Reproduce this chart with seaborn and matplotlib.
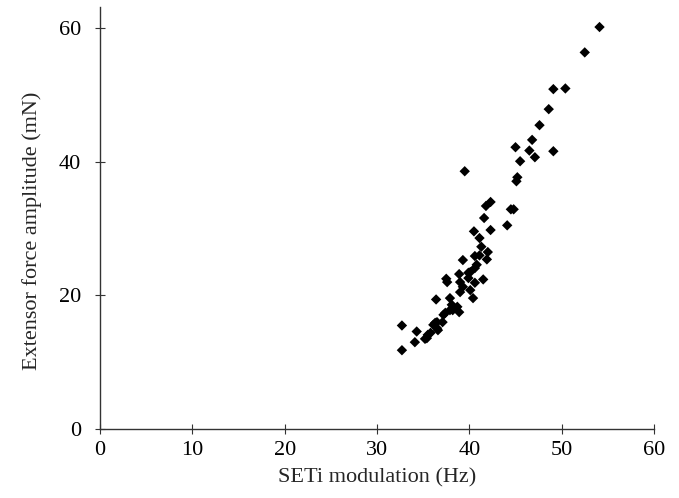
import matplotlib
matplotlib.use("Agg")
import matplotlib.pyplot as plt
import seaborn as sns
import pandas as pd

seti_hz = [54.1, 52.5, 49.1, 50.4, 48.6, 47.6, 46.8, 45.0, 46.5, 49.1, 47.1, 45.5,
           39.5, 45.2, 45.1, 41.8, 42.3, 44.5, 44.8, 41.6, 44.1, 40.5, 42.3, 41.1,
           41.3, 42.0, 41.1, 41.9, 39.3, 40.6, 40.8, 40.6, 40.1, 38.9, 39.9, 37.5,
           41.5, 37.6, 39.0, 39.9, 39.3, 40.6, 39.0, 40.1, 40.4, 36.4, 37.9, 38.1,
           38.7, 38.2, 38.9, 37.9, 37.2, 37.4, 36.5, 37.1, 36.3, 36.1, 36.5, 36.6,
           35.8, 35.5, 35.4, 35.2, 32.7, 34.3, 34.1, 32.7]
force_mn = [60.2, 56.4, 50.9, 51.0, 47.9, 45.5, 43.3, 42.2, 41.7, 41.6, 40.7, 40.1,
            38.6, 37.7, 37.1, 33.4, 34.0, 32.9, 32.9, 31.6, 30.5, 29.6, 29.8, 28.6,
            27.3, 26.5, 26.0, 25.4, 25.3, 25.9, 24.6, 24.1, 23.5, 23.2, 23.4, 22.5,
            22.4, 22.0, 22.0, 22.6, 21.3, 21.9, 20.5, 20.8, 19.6, 19.4, 19.6, 18.6,
            18.3, 17.8, 17.5, 17.8, 17.1, 17.4, 16.0, 16.0, 15.9, 15.6, 15.1, 14.8,
            14.4, 14.1, 13.6, 13.5, 15.5, 14.6, 13.0, 11.8]
x_ticks = [0, 10, 20, 30, 40, 50, 60]
y_ticks = [0, 20, 40, 60]

sns.set_theme(style="ticks")
plt.rcParams['font.family'] = ['Liberation Serif', 'DejaVu Serif']

df = pd.DataFrame({"x": seti_hz, "y": force_mn})

fig = plt.figure(figsize=(6.79, 4.98), dpi=100)
ax = fig.add_axes([100/679, 69/498, 554/679, 422/498])
sns.scatterplot(data=df, x="x", y="y", marker="D", color="black", s=28,
                edgecolor="none", ax=ax)
ax.set_xlim(0, 60)
ax.set_ylim(0, 63.2)
ax.set_xticks(x_ticks)
ax.set_yticks(y_ticks)
for s in ["top", "right"]:
    ax.spines[s].set_visible(False)
for s in ["left", "bottom"]:
    ax.spines[s].set_color("#333333")
    ax.spines[s].set_linewidth(1.0)
ax.tick_params(direction="inout", length=7, width=0.8, colors="#333333",
               labelcolor="black", labelsize=16)
ax.tick_params(axis="y", pad=10)
ax.tick_params(axis="x", pad=5)
ax.set_xlabel("SETi modulation (Hz)", fontsize=16, labelpad=6)
ax.set_ylabel("Extensor force amplitude (mN)", fontsize=16, labelpad=14)
ax.yaxis.set_label_coords(-0.105, 0.47)
fig.savefig("out.png", dpi=100)
